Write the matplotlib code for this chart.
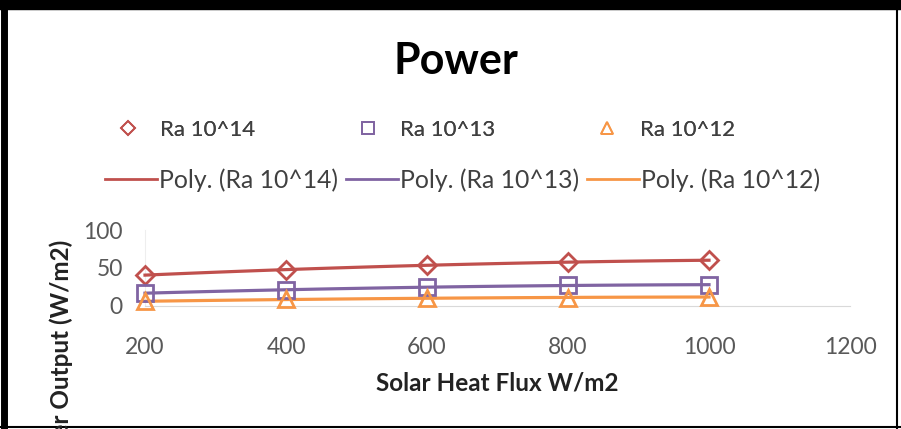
import numpy as np
import matplotlib
matplotlib.use('Agg')
import matplotlib.pyplot as plt
from matplotlib.lines import Line2D

plt.rcParams['font.family'] = ['Lato', 'DejaVu Sans']

flux = [200, 400, 600, 800, 1000]
ra14 = [41, 47, 54, 58, 60]
ra13 = [17, 21, 25, 27, 28]
ra12 = [6, 9, 10, 11, 12]

series = [
    ('Ra 10^14', ra14, 'D', '#C0504D'),
    ('Ra 10^13', ra13, 's', '#8064A2'),
    ('Ra 10^12', ra12, '^', '#F79646'),
]
xticks = [200, 400, 600, 800, 1000, 1200]
yticks = [0, 50, 100]

W, H = 901, 429
fig = plt.figure(figsize=(W / 100, H / 100), dpi=100)
ax = fig.add_axes([145 / W, 1 - 306 / H, (850 - 145) / W, 76 / H])

marker_handles = []
line_handles = []
xs = np.linspace(200, 1000, 100)
for name, vals, mk, col in series:
    # Excel style 2nd order polynomial trendline
    coef = np.polyfit(flux, vals, 2)
    ax.plot(xs, np.polyval(coef, xs), color=col, lw=2.3, clip_on=False, zorder=3)
    ax.plot(flux, vals, linestyle='none', marker=mk, ms=11 if mk != 'D' else 9,
            mfc='none', mec=col, mew=2, clip_on=False, zorder=4)
    marker_handles.append(Line2D([], [], linestyle='none', marker=mk, ms=9 if mk != 'D' else 7,
                                 mfc='none', mec=col, mew=1.3, label=name))
    line_handles.append(Line2D([], [], color=col, lw=2, label='Poly. (%s)' % name))

ax.set_xlim(200, 1200)
ax.set_ylim(0, 100)
ax.set_xticks(xticks)
ax.set_yticks(yticks)
ax.tick_params(length=0, labelsize=16.5, labelcolor='#595959', pad=22)
ax.tick_params(axis='y', pad=16)
for s in ['top', 'right']:
    ax.spines[s].set_visible(False)
ax.spines['bottom'].set_color('#d9d9d9')
ax.spines['left'].set_color('#eeeeee')
ax.patch.set_visible(False)

fig.text(456 / W, 1 - 61 / H, 'Power', ha='center', va='center', fontsize=31, fontweight='bold')
fig.text(497 / W, 1 - 383 / H, 'Solar Heat Flux W/m2', ha='center', va='center',
         fontsize=17.5, fontweight='bold', color='#222222')
fig.text(61 / W, 1 - 240 / H, 'Power Output (W/m2)', ha='center', va='top', rotation=90,
         fontsize=17.5, fontweight='bold', color='#222222')

leg1 = fig.legend(handles=marker_handles, loc='center left', bbox_to_anchor=(116 / W, 1 - 130 / H),
                  ncol=3, frameon=False, fontsize=16, handlelength=1.1, handletextpad=0.9,
                  columnspacing=4.5, labelcolor='#404040', borderaxespad=0, borderpad=0)
fig.add_artist(leg1)
fig.legend(handles=line_handles, loc='center left', bbox_to_anchor=(105 / W, 1 - 180 / H),
           ncol=3, frameon=False, fontsize=17.8, handlelength=2.1, handletextpad=0.1,
           columnspacing=0.3, labelcolor='#404040', borderaxespad=0, borderpad=0)

# outer frame
fig.add_artist(Line2D([0, 1], [1 - 5 / H, 1 - 5 / H], color='black', lw=7.5))
fig.add_artist(Line2D([3.5 / W, 3.5 / W], [0, 1], color='black', lw=5))
fig.add_artist(Line2D([897 / W, 897 / W], [0, 1], color='black', lw=1.5))
fig.add_artist(Line2D([0, 1], [1 - 427 / H, 1 - 427 / H], color='black', lw=1.5))

fig.savefig('out.png', dpi=100)
